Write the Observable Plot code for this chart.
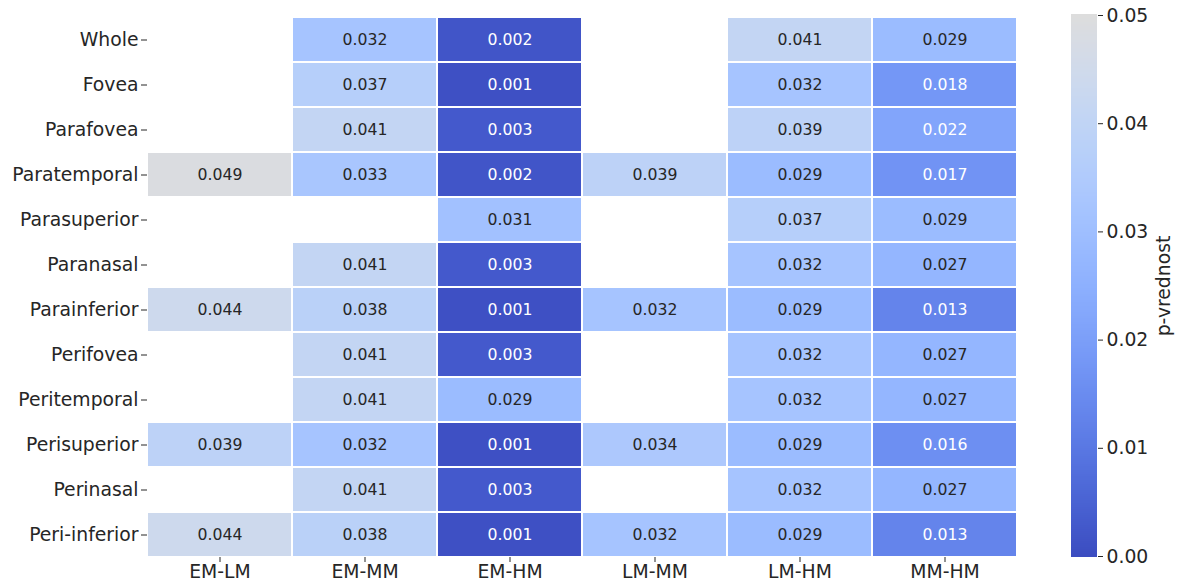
<!DOCTYPE html>
<html>
<head>
<meta charset="utf-8">
<script src="https://cdn.jsdelivr.net/npm/d3@7"></script>
<script src="https://cdn.jsdelivr.net/npm/@observablehq/plot@0.6"></script>
<style>
  html, body { margin: 0; padding: 0; background: #fff; }
  #chart { position: relative; width: 1183px; height: 585px; overflow: hidden; font-family: "DejaVu Sans", sans-serif; }
  #heat { position: absolute; left: 0; top: 0; }
  #bar { position: absolute; left: 1040px; top: 0; }
</style>
</head>
<body>
<div id="chart"><div id="heat"></div><div id="bar"></div></div>
<script>
// Retinal regions (rows) and group comparisons (columns)
const regions = ["Whole", "Fovea", "Parafovea", "Paratemporal", "Parasuperior", "Paranasal",
  "Parainferior", "Perifovea", "Peritemporal", "Perisuperior", "Perinasal", "Peri-inferior"];
const comparisons = ["EM-LM", "EM-MM", "EM-HM", "LM-MM", "LM-HM", "MM-HM"];

// p-values per comparison, one per region (null = not significant / not shown)
const emLm = [null, null, null, 0.049, null, null, 0.044, null, null, 0.039, null, 0.044];
const emMm = [0.032, 0.037, 0.041, 0.033, null, 0.041, 0.038, 0.041, 0.041, 0.032, 0.041, 0.038];
const emHm = [0.002, 0.001, 0.003, 0.002, 0.031, 0.003, 0.001, 0.003, 0.029, 0.001, 0.003, 0.001];
const lmMm = [null, null, null, 0.039, null, null, 0.032, null, null, 0.034, null, 0.032];
const lmHm = [0.041, 0.032, 0.039, 0.029, 0.037, 0.032, 0.029, 0.032, 0.032, 0.029, 0.032, 0.029];
const mmHm = [0.029, 0.018, 0.022, 0.017, 0.029, 0.027, 0.013, 0.027, 0.027, 0.016, 0.027, 0.013];

// Colour bar ticks
const barTicks = [0, 0.01, 0.02, 0.03, 0.04, 0.05];

// Blue half of the "coolwarm" diverging map (0 -> 0.05)
const rampColors = ["#3b4cc0", "#445acc", "#4d68d7", "#5775e1", "#6282ea", "#6c8ef1", "#779af7", "#82a5fb",
  "#8db0fe", "#98b9ff", "#a3c2ff", "#aec9fd", "#b8d0f9", "#c2d5f4", "#ccd9ee", "#d5dbe6", "#dddddd"];
const rampDomain = rampColors.map((_, i) => 0.05 * i / (rampColors.length - 1));

const colorScale = { type: "linear", domain: rampDomain, range: rampColors, interpolate: "rgb" };

const series = [emLm, emMm, emHm, lmMm, lmHm, mmHm];
const cells = [];
comparisons.forEach((c, j) => {
  regions.forEach((r, i) => {
    const p = series[j][i];
    if (p != null) cells.push({ comparison: c, region: r, p });
  });
});

const dark = "#262626";
const isDark = d => d.p < 0.025;

const heat = Plot.plot({
  width: 1040,
  height: 585,
  marginLeft: 147,
  marginRight: 23,
  marginTop: 16,
  marginBottom: 28,
  style: { fontFamily: "DejaVu Sans, sans-serif", fontSize: "18.8px", color: dark, background: "#fff" },
  x: { domain: comparisons, padding: 0, label: null },
  y: { domain: regions, padding: 0, label: null },
  color: colorScale,
  marks: [
    Plot.cell(cells, { x: "comparison", y: "region", fill: "p", inset: 1 }),
    Plot.text(cells.filter(d => !isDark(d)), { x: "comparison", y: "region", text: d => d.p.toFixed(3), fill: dark, fontSize: 15.7 }),
    Plot.text(cells.filter(isDark), { x: "comparison", y: "region", text: d => d.p.toFixed(3), fill: "white", fontSize: 15.7 }),
    Plot.axisX({ tickSize: 5, tickPadding: 2, label: null, fontSize: 18.8 }),
    Plot.axisY({ tickSize: 6, tickPadding: 3, label: null, fontSize: 18.8 })
  ]
});
document.getElementById("heat").appendChild(heat);

// Colour bar: thin stacked bands sampled along the colour scale
const bands = d3.range(270).map(i => ({ lo: 0.05 * i / 270, hi: 0.05 * (i + 1) / 270, mid: 0.05 * (i + 0.5) / 270 }));

const bar = Plot.plot({
  width: 143,
  height: 585,
  marginLeft: 31,
  marginRight: 86,
  marginTop: 15,
  marginBottom: 29,
  style: { fontFamily: "DejaVu Sans, sans-serif", fontSize: "18.8px", color: dark, background: "transparent" },
  x: { domain: [0, 1], axis: null },
  y: { domain: [0, 0.05] },
  color: colorScale,
  marks: [
    Plot.rect(bands, { x1: 0, x2: 1, y1: "lo", y2: "hi", fill: "mid", insetTop: -0.6, insetBottom: -0.6, shapeRendering: "crispEdges" }),
    Plot.axisY({ anchor: "right", ticks: barTicks, tickFormat: d3.format(".2f"), tickSize: 5, tickPadding: 4,
      label: "p-vrednost", labelAnchor: "center", labelArrow: "none", labelOffset: 72, fontSize: 18.8 })
  ]
});
document.getElementById("bar").appendChild(bar);
</script>
</body>
</html>
